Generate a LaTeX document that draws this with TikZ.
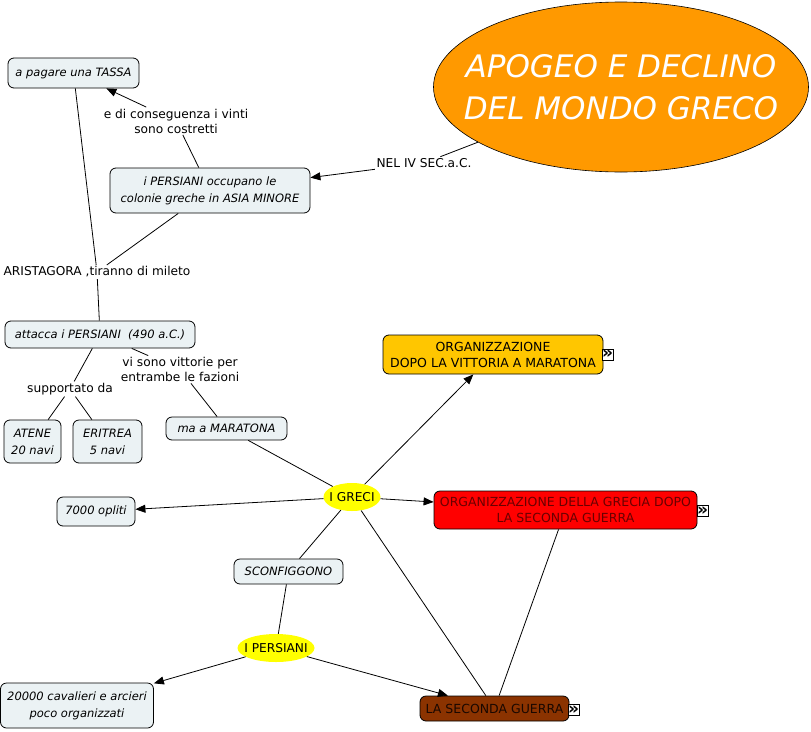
\documentclass[tikz,border=0pt]{standalone}
\usepackage{fontspec}
\setmainfont{DejaVu Sans}
\usetikzlibrary{arrows.meta,shapes.geometric}
\definecolor{boxfill}{HTML}{EBF2F4}
\definecolor{titlefill}{HTML}{FF9900}
\definecolor{goldfill}{HTML}{FFC600}
\definecolor{redfill}{HTML}{FF0000}
\definecolor{redtext}{HTML}{6A0000}
\definecolor{brownfill}{HTML}{8B3300}
\definecolor{browntext}{HTML}{1A0800}
\definecolor{yellowfill}{HTML}{FFFF00}
\begin{document}
\begin{tikzpicture}[x=1pt,y=-1pt,
  cbox/.style={draw=black, fill=boxfill, rounded corners=6pt, line width=0.8pt,
    font=\itshape\fontsize{11.5}{17}\selectfont, align=center, inner sep=0pt},
  pbox/.style={draw=black, rounded corners=6pt, line width=0.8pt,
    font=\fontsize{12.5}{16}\selectfont, align=center, inner sep=0pt},
  lbl/.style={font=\fontsize{12.2}{15}\selectfont, align=center, inner sep=1.5pt},
  oval/.style={ellipse, fill=yellowfill, inner sep=0pt},
  ovaltext/.style={font=\fontsize{12.2}{15}\selectfont, inner sep=0pt},
  navbox/.style={draw=black, fill=white, line width=0.6pt, minimum size=11pt, inner sep=0pt,
    font=\bfseries\fontsize{17}{17}\selectfont},
  link/.style={line width=0.8pt},
  arr/.style={link, -{Triangle[length=10pt,width=8pt]}}]
\useasboundingbox (0,0) rectangle (811,731);

% title
\node[ellipse, draw=black, line width=0.6pt, fill=titlefill, minimum width=375pt, minimum height=170pt,
  inner sep=0pt,
  label={[text=white, align=center, inner sep=0pt, font=\itshape\fontsize{31}{42}\selectfont]center:APOGEO E DECLINO\\DEL MONDO GRECO}]
  (title) at (621,87) {};

% concept boxes
\node[cbox, minimum width=131pt, minimum height=30pt] (tassa) at (73.5,73) {a pagare una TASSA};
\node[cbox, minimum width=200pt, minimum height=45pt] (occ) at (210,190.5)
  {i PERSIANI occupano le\\colonie greche in ASIA MINORE};
\node[cbox, minimum width=190pt, minimum height=27pt] (att) at (100,334.5) {attacca i PERSIANI~~(490 a.C.)};
\node[cbox, minimum width=57pt, minimum height=43pt] (atene) at (32.5,441.5) {ATENE\\20 navi};
\node[cbox, minimum width=69pt, minimum height=43pt] (eri) at (107.5,441.5) {ERITREA\\5 navi};
\node[cbox, minimum width=121pt, minimum height=23pt] (mar) at (226.5,428.5) {ma a MARATONA};
\node[cbox, minimum width=78pt, minimum height=29pt] (opl) at (96,511.5) {7000 opliti};
\node[cbox, minimum width=109pt, minimum height=25pt] (sconf) at (288.5,571.5) {SCONFIGGONO};
\node[cbox, minimum width=153pt, minimum height=45pt] (cav) at (77,705.5)
  {20000 cavalieri e arcieri\\poco organizzati};

% coloured boxes
\node[pbox, fill=goldfill, minimum width=220pt, minimum height=39pt] (orgm) at (493,354.5)
  {ORGANIZZAZIONE\\DOPO LA VITTORIA A MARATONA};
\node[pbox, fill=redfill, text=redtext, minimum width=263pt, minimum height=38pt] (orgg) at (565.5,510)
  {ORGANIZZAZIONE DELLA GRECIA DOPO\\LA SECONDA GUERRA};
\node[pbox, fill=brownfill, text=browntext, minimum width=149pt, minimum height=25pt] (guerra) at (494.5,708.5)
  {LA SECONDA GUERRA};

% nav icons
\node[navbox] (nav1) at (607.5,354.5) {»};
\node[navbox] (nav2) at (702.5,511) {»};
\node[navbox] (nav3) at (573.5,710) {»};

% ovals
\node[oval, minimum width=57pt, minimum height=28pt, label={[ovaltext]center:I GRECI}] (greci) at (352,497) {};
\node[oval, minimum width=77pt, minimum height=28pt, label={[ovaltext]center:I PERSIANI}] (pers) at (276,648) {};

% link labels
\node[lbl] (cons) at (176,121) {e di conseguenza i vinti\\sono costretti};
\node[lbl] (nel) at (424,163) {NEL IV SEC.a.C.};
\node[lbl] (arist) at (97,272) {ARISTAGORA ,tiranno di mileto};
\node[lbl] (supp) at (70,389) {supportato da};
\node[lbl] (vitt) at (180,369.5) {vi sono vittorie per\\entrambe le fazioni};

% connectors
\draw[link] (occ) -- (cons);
\draw[arr] (cons) -- (tassa);
\draw[link] (title) -- (nel);
\draw[arr] (nel) -- (occ);
\draw[link] (occ) -- (arist);
\draw[link] (tassa) -- (arist);
\draw[link] (arist) -- (att);
\draw[link] (att) -- (supp);
\draw[link] (supp) -- (atene);
\draw[link] (supp) -- (eri);
\draw[link] (att) -- (vitt);
\draw[link] (vitt) -- (mar);
\draw[link] (mar) -- (greci);
\draw[arr] (greci) -- (orgm);
\draw[arr] (greci) -- (opl);
\draw[arr] (greci) -- (orgg);
\draw[link] (greci) -- (sconf);
\draw[link] (greci) -- (guerra);
\draw[link] (sconf) -- (pers);
\draw[arr] (pers) -- (cav);
\draw[arr] (pers) -- (guerra);
\draw[link] (orgg) -- (guerra);
\end{tikzpicture}
\end{document}
